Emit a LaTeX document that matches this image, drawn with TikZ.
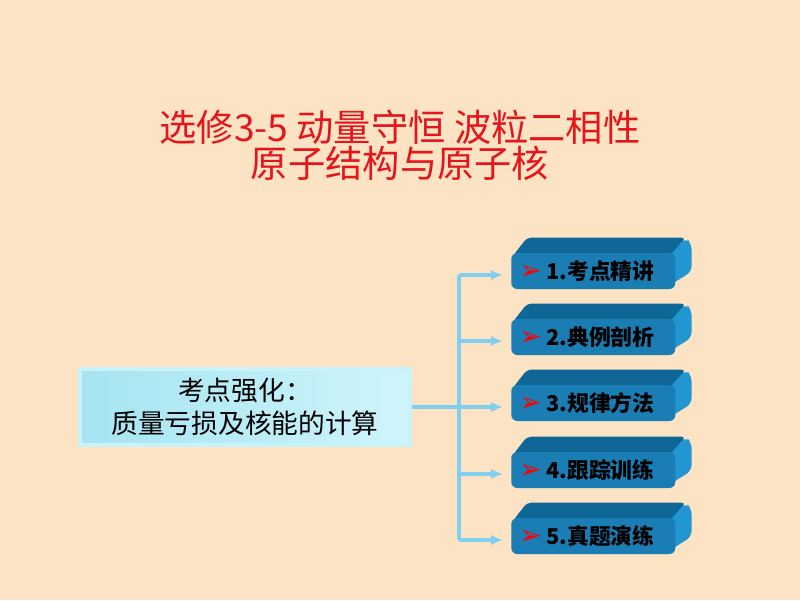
\documentclass[tikz,border=0pt]{standalone}
\usepackage{fontspec}
\newfontfamily\cjk{Noto Sans CJK SC}
\newfontfamily\symfont{DejaVu Sans}
\usetikzlibrary{arrows.meta,calc}

\definecolor{bgpaper}{HTML}{FCE3C3}
\definecolor{titlered}{HTML}{E5151C}
\definecolor{linkblue}{HTML}{80CEF0}
\definecolor{boxleft}{HTML}{A6E4F2}
\definecolor{boxright}{HTML}{CFF5FB}
\definecolor{boxrim}{HTML}{C8F3FA}
\definecolor{btnfront}{HTML}{1A7DB4}
\definecolor{btntop}{HTML}{0E6796}
\definecolor{btnside}{HTML}{2196D0}

\pgfdeclarelayer{paper}
\pgfdeclarelayer{back}
\pgfsetlayers{paper,back,main}

\newcommand{\bul}{{\symfont\color{red}\fontsize{19}{16}\selectfont ➢}\hspace{0.12cm}}

\tikzset{
  topicbox/.style={rectangle,draw=boxrim,line width=2.8pt,left color=boxleft,right color=boxright,
    minimum width=8.25cm,minimum height=1.9cm,align=center,
    font=\cjk\fontsize{19}{23.5}\selectfont},
  btnface/.style={rectangle,rounded corners=0.15cm,fill=btnfront,
    minimum height=0.9cm,text width=3.7cm,inner xsep=0.2cm,align=left,anchor=west,
    font=\cjk\bfseries\fontsize{15.5}{16}\selectfont},
  link/.style={draw=linkblue,line width=2.8pt},
  linkarrow/.style={link,-{Latex[length=0.3cm,width=0.26cm]},shorten >=0.2cm}
}

\begin{document}
\begin{tikzpicture}[x=0.025cm,y=-0.025cm]
  \begin{pgfonlayer}{paper}
    \fill[bgpaper] (0,0) rectangle (800,600);
  \end{pgfonlayer}
  \useasboundingbox (0,0) rectangle (800,600);

  \node (title) at (400,145) [align=center,text=titlered,
        font=\cjk\fontsize{26.5}{25.6}\selectfont]
        {选修3-5 动量守恒 波粒二相性\\原子结构与原子核};

  \node[topicbox] (topic) at (245,407) {考点强化：\\质量亏损及核能的计算};

  \node[btnface] (b1) at (511,271) {\bul 1.考点精讲};
  \node[btnface] (b2) at (511,337) {\bul 2.典例剖析};
  \node[btnface] (b3) at (511,403) {\bul 3.规律方法};
  \node[btnface] (b4) at (511,470) {\bul 4.跟踪训练};
  \node[btnface] (b5) at (511,536) {\bul 5.真题演练};

  % top and side faces of the buttons
  \begin{pgfonlayer}{back}
  \foreach \b in {b1,b2,b3,b4,b5}{
    \fill[btntop,rounded corners=0.1cm] ($(\b.north west)+(2,3)$) -- ++(14,-18)
         -- ($(\b.north east)+(10,-15)$) -- ($(\b.north east)+(-2,3)$) -- cycle;
    \fill[btnside,rounded corners=0.15cm] ($(\b.north east)+(-6,3)$) -- ++(16,-18)
         -- ++(6,6) -- ++(0,28) -- ($(\b.south east)+(-6,-4)$) -- cycle;
  }
  \end{pgfonlayer}

  \coordinate (j1) at (459,275);
  \coordinate (j2) at (459,341);
  \coordinate (j3) at (459,407);
  \coordinate (j4) at (459,474);
  \coordinate (j5) at (459,540);

  \draw[link] (topic.east) -- (j3);
  \draw[link] (j1) -- (j5);
  \draw[linkarrow] (j1) -- (j1 -| b1.west);
  \draw[linkarrow] (j2) -- (j2 -| b2.west);
  \draw[linkarrow] (j3) -- (j3 -| b3.west);
  \draw[linkarrow] (j4) -- (j4 -| b4.west);
  \draw[linkarrow] (j5) -- (j5 -| b5.west);
\end{tikzpicture}
\end{document}
